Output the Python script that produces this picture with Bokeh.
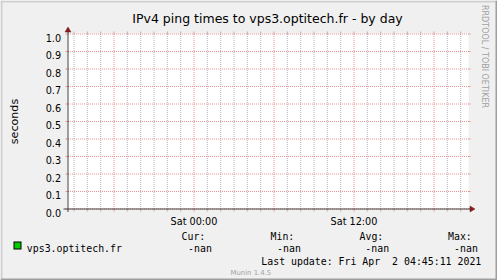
import math
from bokeh.plotting import figure
from bokeh.models import Range1d, Label, ColumnDataSource
from bokeh.core.properties import value
from bokeh.embed import file_html
from bokeh.resources import INLINE

# ---------------- data ----------------
TITLE = "IPv4 ping times to vps3.optitech.fr - by day"
Y_LABEL = "seconds"
Y_TICKS = [0.0, 0.1, 0.2, 0.3, 0.4, 0.5, 0.6, 0.7, 0.8, 0.9, 1.0]
X_START, X_END = -9.45, 20.55          # hours relative to Sat 00:00
X_MAJOR_HOURS = [-6, 0, 6, 12, 18]
X_MINOR_HOURS = [h for h in range(-9, 21) if h % 6 != 0]
X_LABEL_HOURS = [0, 12]
X_LABELS = ["Sat 00:00", "Sat 12:00"]

SERIES_NAME = "vps3.optitech.fr"
SERIES_COLOR = "#00CC00"
SERIES_HOURS = [X_START, X_END]
SERIES_VALUES = [float("nan"), float("nan")]   # no data ("-nan")

STAT_NAMES = ["Cur:", "Min:", "Avg:", "Max:"]
STAT_VALUES = ["-nan", "-nan", "-nan", "-nan"]
LAST_UPDATE = "Last update: Fri Apr\u00a0 2 04:45:11 2021"
WATERMARK = "Munin 1.4.5"
RRD_CREDIT = "RRDTOOL / TOBI OETIKER"

# ---------------- layout (screen pixels) ----------------
W, H = 497, 280
OX, OY = 67.5, 208.5          # pixel-centre of the origin
XSIZE, YSIZE = 400, 175
PX_PER_H = XSIZE / (X_END - X_START)


def X(sx):
    return X_START + (sx - OX) / PX_PER_H


def Y(sy):
    return (OY - sy) / YSIZE


SANS = "DejaVu Sans"
MONO = "DejaVu Sans Mono"
BACK = "#F0F0F0"
SHADE_A, SHADE_B = "#CFCFCF", "#9E9E9E"
GRID_C, MGRID_C = "#B4B4B4", "#EB9595"
AXIS_C, ARROW_C = "#404040", "#801F1F"
LEG_SIZE = "9.9px"

p = figure(width=W, height=H, x_range=Range1d(X(0), X(W)), y_range=Range1d(Y(H), Y(0)),
           min_border=0, x_axis_location=None, y_axis_location=None,
           output_backend="svg", toolbar_location=None,
           background_fill_color=BACK, border_fill_color=BACK,
           outline_line_color=None)
p.title = None
for g in p.grid:
    g.visible = False

# 3D frame
p.quad(left=[X(0), X(0)], right=[X(W), X(2)], top=[Y(0), Y(0)], bottom=[Y(2), Y(H)],
       fill_color=SHADE_A, line_color=None)
p.quad(left=[X(W - 2), X(0)], right=[X(W), X(W)], top=[Y(0), Y(H - 2)], bottom=[Y(H), Y(H)],
       fill_color=SHADE_B, line_color=None)

# canvas
p.quad(left=[X_START - 0.5 / PX_PER_H], right=[X_END + 0.5 / PX_PER_H],
       top=[1 + 0.5 / YSIZE], bottom=[-0.5 / YSIZE], fill_color="white", line_color=None)

tick_h = 2.5 / PX_PER_H
tick_v = 2.5 / YSIZE

# minor vertical grid
n = len(X_MINOR_HOURS)
p.segment(x0=X_MINOR_HOURS, y0=[0] * n, x1=X_MINOR_HOURS, y1=[1] * n,
          line_color=GRID_C, line_dash="1 1", line_width=1)
p.segment(x0=X_MINOR_HOURS + X_MINOR_HOURS, y0=[0] * n + [1] * n,
          x1=X_MINOR_HOURS + X_MINOR_HOURS, y1=[-tick_v] * n + [1 + tick_v] * n,
          line_color=GRID_C, line_width=1)
# major vertical grid
m = len(X_MAJOR_HOURS)
p.segment(x0=X_MAJOR_HOURS, y0=[0] * m, x1=X_MAJOR_HOURS, y1=[1] * m,
          line_color=MGRID_C, line_dash="1 1", line_width=1)
p.segment(x0=X_MAJOR_HOURS + X_MAJOR_HOURS, y0=[0] * m + [1] * m,
          x1=X_MAJOR_HOURS + X_MAJOR_HOURS, y1=[-tick_v] * m + [1 + tick_v] * m,
          line_color=MGRID_C, line_width=1)
# horizontal grid
k = len(Y_TICKS)
p.segment(x0=[X_START] * k, y0=Y_TICKS, x1=[X_END] * k, y1=Y_TICKS,
          line_color=MGRID_C, line_dash="1 1", line_width=1)
p.segment(x0=[X_START] * k + [X_END] * k, y0=Y_TICKS + Y_TICKS,
          x1=[X_START - tick_h] * k + [X_END + tick_h] * k, y1=Y_TICKS + Y_TICKS,
          line_color=MGRID_C, line_width=1)

# series (no data -> nothing drawn)
p.line(SERIES_HOURS, SERIES_VALUES, line_color=SERIES_COLOR, line_width=1)

# axes with arrows
p.segment(x0=[X(63), X_START], y0=[0, Y(211.5)], x1=[X(471), X_START], y1=[0, Y(29)],
          line_color=AXIS_C, line_width=1)
p.patches(xs=[[X(469.5), X(469.5), X(474.5)], [X(64.5), X(70.5), X(67.5)]],
          ys=[[Y(205.5), Y(211.5), Y(208.5)], [Y(31.5), Y(31.5), Y(26.5)]],
          fill_color=ARROW_C, line_color=ARROW_C, line_width=0.5)

# tick labels
ysrc = ColumnDataSource(dict(x=[X(60.6)] * k, y=[v - 3.5 / YSIZE for v in Y_TICKS],
                             t=[f"{v:.1f}" for v in Y_TICKS]))
p.text(x="x", y="y", text="t", source=ysrc, text_align="right", text_baseline="alphabetic",
       text_font=value(SANS), text_font_size=value("9.7px"), text_color="black")
xsrc = ColumnDataSource(dict(x=X_LABEL_HOURS, y=[Y(221)] * len(X_LABELS), t=X_LABELS))
p.text(x="x", y="y", text="t", source=xsrc, text_align="center", text_baseline="alphabetic",
       text_font=value(SANS), text_font_size=value("9.7px"), text_color="black")


def label(sx, sy, text, font=MONO, size=LEG_SIZE, color="black", **kw):
    p.add_layout(Label(x=X(sx), y=Y(sy), text=text, text_font=font, text_font_size=size,
                       text_color=color, text_baseline="alphabetic", **kw))


# title, unit label, credit
label(267, 17.5, TITLE, font=SANS, size="12.5px", text_align="center")
label(14, 121, Y_LABEL, font=SANS, size="11.1px", text_align="center", angle=math.pi / 2)
label(483.8, 4.5, RRD_CREDIT, font=SANS, size="8px", color="#A0A0A0",
      text_align="left", angle=-math.pi / 2)

# legend
p.quad(left=[X(13)], right=[X(21)], top=[Y(241)], bottom=[Y(249)],
       fill_color="black", line_color=None)
p.quad(left=[X(14)], right=[X(20)], top=[Y(242)], bottom=[Y(248)],
       fill_color=SERIES_COLOR, line_color=None)
label(26.3, 248.3, SERIES_NAME)
STAT_X = [181, 270, 359, 447.5]
VAL_X = [187.6, 276.6, 364.8, 453.6]
for sx, vx, name, val in zip(STAT_X, VAL_X, STAT_NAMES, STAT_VALUES):
    label(sx, 236, name)
    label(vx, 248.3, val)
label(260.8, 260.7, LAST_UPDATE)
label(230, 272, WATERMARK, font=SANS, size="6.9px", color="#A0A0A0")

open("out.html", "w").write(file_html(p, INLINE))
